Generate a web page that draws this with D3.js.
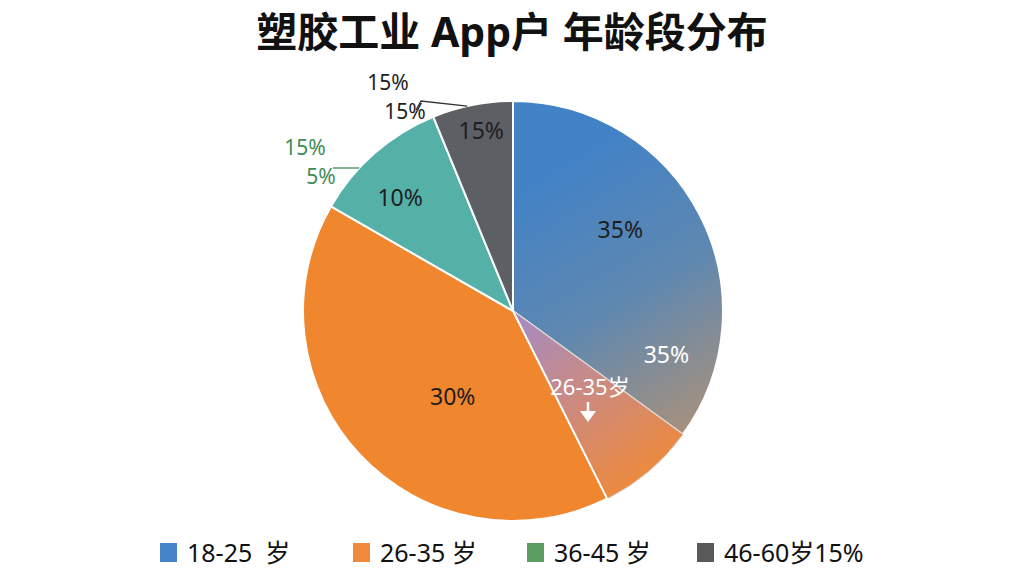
<!DOCTYPE html>
<html>
<head>
<meta charset="utf-8">
<script src="https://cdn.jsdelivr.net/npm/d3@7"></script>
<style>
  html, body { margin: 0; padding: 0; background: #fff; }
  svg { display: block; }
  text { font-family: "Noto Sans", "Noto Sans CJK SC", sans-serif; white-space: pre; }
</style>
</head>
<body>
<svg id="chart" width="1024" height="576"></svg>
<script>
// slice shares as drawn (clockwise from 12 o'clock)
const sliceKeys = ['blue', 'mix', 'orange', 'teal', 'gray'];
const sliceValues = [35, 7.6, 40.7, 10.5, 6.2];
const sliceLabels = ['35%', '35%', '30%', '10%', '15%'];

const legendNames = ['18-25  岁', '26-35 岁', '36-45 岁', '46-60岁15%'];
const legendColors = ['#4584c8', '#f08a3a', '#5a9e62', '#58595b'];

const outerLabels = ['15%', '15%', '15%', '5%'];

const W = 1024, H = 576;
const cx = 513, cy = 311, R = 210;

const svg = d3.select('#chart');
const defs = svg.append('defs');

// gradients are in the pie group's coordinates (origin at the centre)
// blue slice fades towards warm grey at its lower edge
const gBlue = defs.append('linearGradient')
  .attr('id', 'gBlue')
  .attr('gradientUnits', 'userSpaceOnUse')
  .attr('x1', 40).attr('y1', -140).attr('x2', 190).attr('y2', 115);
gBlue.append('stop').attr('offset', 0).attr('stop-color', '#4282c6');
gBlue.append('stop').attr('offset', 0.5).attr('stop-color', '#5f88b0');
gBlue.append('stop').attr('offset', 1).attr('stop-color', '#a8917c');

// small slice: purple at the centre, orange at the rim
const gMix = defs.append('linearGradient')
  .attr('id', 'gMix')
  .attr('gradientUnits', 'userSpaceOnUse')
  .attr('x1', 10).attr('y1', 15).attr('x2', 125).attr('y2', 180);
gMix.append('stop').attr('offset', 0).attr('stop-color', '#a98bbb');
gMix.append('stop').attr('offset', 0.45).attr('stop-color', '#cc8a80');
gMix.append('stop').attr('offset', 1).attr('stop-color', '#ef8a3a');

const fills = {
  blue: 'url(#gBlue)',
  mix: 'url(#gMix)',
  orange: '#f0862e',
  teal: '#55b0a7',
  gray: '#5c5f63'
};

const pie = d3.pie().sort(null).value(d => d.value);
const arcs = pie(sliceKeys.map((k, i) => ({key: k, value: sliceValues[i], label: sliceLabels[i]})));

const arc = d3.arc().innerRadius(0).outerRadius(R);

const g = svg.append('g').attr('transform', `translate(${cx},${cy})`);

g.selectAll('path.slice')
  .data(arcs)
  .enter()
  .append('path')
  .attr('class', 'slice')
  .attr('d', arc)
  .attr('fill', d => fills[d.data.key])
  .attr('stroke', d => d.data.key === 'mix' ? '#d8c4bc' : '#fff')
  .attr('stroke-width', d => d.data.key === 'mix' ? 1 : 2);

// label placement: angle (deg, clockwise from top) and radius fraction
const labelPos = {
  blue: [53, 0.64],
  mix: [106, 0.76],
  orange: [215, 0.5],
  teal: [315, 0.76],
  gray: [350, 0.87]
};
const labelColor = {blue: '#1e1e1e', mix: '#fff', orange: '#1e1e1e', teal: '#1e1e1e', gray: '#1e1e1e'};
const polar = (deg, rf) => {
  const a = deg * Math.PI / 180;
  return [Math.sin(a) * R * rf, -Math.cos(a) * R * rf];
};

g.selectAll('text.inlabel')
  .data(arcs)
  .enter()
  .append('text')
  .attr('class', 'inlabel')
  .attr('transform', d => `translate(${polar(...labelPos[d.data.key])})`)
  .attr('text-anchor', 'middle')
  .attr('dy', '0.35em')
  .attr('font-size', 23)
  .attr('fill', d => labelColor[d.data.key])
  .text(d => d.data.label);

// annotation with arrow on the small slice
const [mx, my] = polar(134.6, 0.515);
g.append('text')
  .attr('x', mx).attr('y', my)
  .attr('text-anchor', 'middle')
  .attr('dy', '0.35em')
  .attr('font-size', 22)
  .attr('fill', '#fff')
  .text('26-35岁');
g.append('line')
  .attr('x1', mx - 2).attr('y1', my + 15)
  .attr('x2', mx - 2).attr('y2', my + 27)
  .attr('stroke', '#fff').attr('stroke-width', 2.5);
g.append('path')
  .attr('d', `M${mx - 10},${my + 24} L${mx + 6},${my + 24} L${mx - 2},${my + 35} Z`)
  .attr('fill', '#fff');

// outside callouts for the gray and teal slices
const grayArc = arcs[4];
const ga = grayArc.startAngle + 0.17;
const gx = Math.sin(ga) * R, gy = -Math.cos(ga) * R;
g.append('polyline')
  .attr('points', `${gx},${gy} ${-92},${-210} ${-97},${-201}`)
  .attr('fill', 'none').attr('stroke', '#333').attr('stroke-width', 1.3);
g.append('text')
  .attr('x', -125).attr('y', -221)
  .attr('text-anchor', 'middle').attr('font-size', 21).attr('fill', '#1e1e1e')
  .text(outerLabels[0]);
g.append('text')
  .attr('x', -108).attr('y', -192)
  .attr('text-anchor', 'middle').attr('font-size', 21).attr('fill', '#1e1e1e')
  .text(outerLabels[1]);

const tealY = -143;
const tealX = -Math.sqrt(R * R - tealY * tealY);
g.append('line')
  .attr('x1', tealX).attr('y1', tealY)
  .attr('x2', -180).attr('y2', tealY)
  .attr('stroke', '#3e8c56').attr('stroke-width', 1.3);
g.append('text')
  .attr('x', -208).attr('y', -156)
  .attr('text-anchor', 'middle').attr('font-size', 21).attr('fill', '#3e8c56')
  .text(outerLabels[2]);
g.append('text')
  .attr('x', -192).attr('y', -127)
  .attr('text-anchor', 'middle').attr('font-size', 21).attr('fill', '#3e8c56')
  .text(outerLabels[3]);

// title
svg.append('text')
  .attr('x', W / 2).attr('y', 47)
  .attr('text-anchor', 'middle')
  .attr('font-size', 41)
  .attr('font-weight', 'bold')
  .attr('fill', '#111')
  .text('塑胶工业 App户 年龄段分布');

// legend
const legendX = d3.scaleOrdinal().domain(legendNames).range([160, 353, 527, 697]);
const leg = svg.append('g').selectAll('g.item')
  .data(legendNames)
  .enter()
  .append('g')
  .attr('class', 'item')
  .attr('transform', d => `translate(${legendX(d)},543)`);
leg.append('rect')
  .attr('width', 17).attr('height', 19)
  .attr('fill', (d, i) => legendColors[i]);
leg.append('text')
  .attr('x', 27).attr('y', 10)
  .attr('dy', '0.35em')
  .attr('font-size', 25)
  .attr('fill', '#111')
  .text(d => d);
</script>
</body>
</html>
